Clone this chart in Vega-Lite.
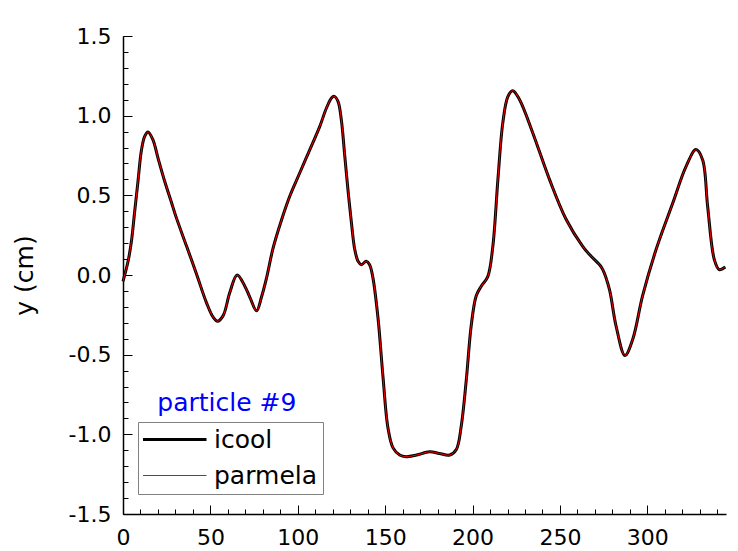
{
  "$schema": "https://vega.github.io/schema/vega-lite/v6.json",
  "width": 603,
  "height": 478,
  "autosize": {"type": "none"},
  "padding": {"left": 123, "top": 36, "right": 12, "bottom": 37},
  "background": "white",
  "config": {
    "view": {"stroke": null},
    "font": "DejaVu Sans",
    "axis": {"labelFont": "DejaVu Sans", "titleFont": "DejaVu Sans", "labelColor": "black", "titleColor": "black", "domainColor": "black", "tickColor": "black", "grid": false}
  },
  "datasets": {
    "traj": [
      {"x": 0, "icool": -0.04, "parmela": -0.04},
      {"x": 2.9, "icool": 0.086, "parmela": 0.086},
      {"x": 4.8, "icool": 0.21, "parmela": 0.21},
      {"x": 6.7, "icool": 0.4, "parmela": 0.4},
      {"x": 8.6, "icool": 0.59, "parmela": 0.59},
      {"x": 10.5, "icool": 0.78, "parmela": 0.78},
      {"x": 12.4, "icool": 0.87, "parmela": 0.87},
      {"x": 14.3, "icool": 0.898, "parmela": 0.898},
      {"x": 17.1, "icool": 0.85, "parmela": 0.85},
      {"x": 20, "icool": 0.735, "parmela": 0.735},
      {"x": 23.8, "icool": 0.59, "parmela": 0.59},
      {"x": 27.6, "icool": 0.46, "parmela": 0.46},
      {"x": 30.5, "icool": 0.36, "parmela": 0.36},
      {"x": 36.4, "icool": 0.18, "parmela": 0.18},
      {"x": 42.1, "icool": 0.005, "parmela": 0.005},
      {"x": 47.8, "icool": -0.175, "parmela": -0.175},
      {"x": 51.6, "icool": -0.265, "parmela": -0.265},
      {"x": 54.1, "icool": -0.29, "parmela": -0.29},
      {"x": 57.3, "icool": -0.255, "parmela": -0.255},
      {"x": 61.1, "icool": -0.11, "parmela": -0.11},
      {"x": 65.3, "icool": 0.0, "parmela": 0.0},
      {"x": 69.7, "icool": -0.07, "parmela": -0.07},
      {"x": 72.6, "icool": -0.14, "parmela": -0.14},
      {"x": 76.4, "icool": -0.225, "parmela": -0.225},
      {"x": 79.2, "icool": -0.14, "parmela": -0.14},
      {"x": 82.1, "icool": -0.02, "parmela": -0.02},
      {"x": 85.9, "icool": 0.17, "parmela": 0.17},
      {"x": 90.7, "icool": 0.345, "parmela": 0.345},
      {"x": 95.4, "icool": 0.494, "parmela": 0.494},
      {"x": 101.1, "icool": 0.64, "parmela": 0.64},
      {"x": 106.9, "icool": 0.787, "parmela": 0.787},
      {"x": 112.6, "icool": 0.933, "parmela": 0.933},
      {"x": 116.4, "icool": 1.048, "parmela": 1.048},
      {"x": 119.3, "icool": 1.111, "parmela": 1.111},
      {"x": 120.8, "icool": 1.121, "parmela": 1.121},
      {"x": 123, "icool": 1.09, "parmela": 1.09},
      {"x": 124.9, "icool": 0.975, "parmela": 0.975},
      {"x": 126.9, "icool": 0.745, "parmela": 0.745},
      {"x": 128.7, "icool": 0.536, "parmela": 0.536},
      {"x": 130.7, "icool": 0.327, "parmela": 0.327},
      {"x": 132.6, "icool": 0.16, "parmela": 0.16},
      {"x": 134.5, "icool": 0.086, "parmela": 0.086},
      {"x": 136.4, "icool": 0.065, "parmela": 0.065},
      {"x": 139.2, "icool": 0.086, "parmela": 0.086},
      {"x": 141.1, "icool": 0.065, "parmela": 0.065},
      {"x": 143, "icool": -0.018, "parmela": -0.018},
      {"x": 145.9, "icool": -0.27, "parmela": -0.27},
      {"x": 148.8, "icool": -0.645, "parmela": -0.645},
      {"x": 151.6, "icool": -0.96, "parmela": -0.96},
      {"x": 154.5, "icool": -1.085, "parmela": -1.085},
      {"x": 158.3, "icool": -1.13, "parmela": -1.13},
      {"x": 162, "icool": -1.14, "parmela": -1.14},
      {"x": 168, "icool": -1.13, "parmela": -1.13},
      {"x": 175.4, "icool": -1.11, "parmela": -1.11},
      {"x": 181, "icool": -1.12, "parmela": -1.12},
      {"x": 186.9, "icool": -1.13, "parmela": -1.13},
      {"x": 190.7, "icool": -1.095, "parmela": -1.095},
      {"x": 193.5, "icool": -0.95, "parmela": -0.95},
      {"x": 196.4, "icool": -0.66, "parmela": -0.66},
      {"x": 199.2, "icool": -0.32, "parmela": -0.32},
      {"x": 202.1, "icool": -0.13, "parmela": -0.13},
      {"x": 205, "icool": -0.07, "parmela": -0.07},
      {"x": 208.7, "icool": -0.01, "parmela": -0.01},
      {"x": 211.6, "icool": 0.18, "parmela": 0.18},
      {"x": 214.5, "icool": 0.6, "parmela": 0.6},
      {"x": 217.3, "icool": 0.955, "parmela": 0.955},
      {"x": 220.2, "icool": 1.12, "parmela": 1.12},
      {"x": 223, "icool": 1.157, "parmela": 1.157},
      {"x": 226.9, "icool": 1.1, "parmela": 1.1},
      {"x": 234.5, "icool": 0.89, "parmela": 0.89},
      {"x": 244, "icool": 0.6, "parmela": 0.6},
      {"x": 253.5, "icool": 0.35, "parmela": 0.35},
      {"x": 263, "icool": 0.18, "parmela": 0.18},
      {"x": 266.9, "icool": 0.128, "parmela": 0.128},
      {"x": 272.6, "icool": 0.065, "parmela": 0.065},
      {"x": 274.5, "icool": 0.034, "parmela": 0.034},
      {"x": 278.3, "icool": -0.09, "parmela": -0.09},
      {"x": 282.1, "icool": -0.32, "parmela": -0.32},
      {"x": 287.2, "icool": -0.505, "parmela": -0.505},
      {"x": 291.6, "icool": -0.405, "parmela": -0.405},
      {"x": 297.3, "icool": -0.13, "parmela": -0.13},
      {"x": 305, "icool": 0.16, "parmela": 0.16},
      {"x": 314.5, "icool": 0.45, "parmela": 0.45},
      {"x": 322.1, "icool": 0.68, "parmela": 0.68},
      {"x": 327.8, "icool": 0.787, "parmela": 0.787},
      {"x": 331.6, "icool": 0.724, "parmela": 0.724},
      {"x": 334.5, "icool": 0.43, "parmela": 0.43},
      {"x": 338.3, "icool": 0.097, "parmela": 0.097},
      {"x": 341.1, "icool": 0.034, "parmela": 0.034},
      {"x": 344.6, "icool": 0.05, "parmela": 0.05}
    ]
  },
  "layer": [
    {
      "data": {"name": "traj"},
      "transform": [{"fold": ["icool", "parmela"], "as": ["series", "y"]}],
      "mark": {"type": "line", "interpolate": "catmull-rom"},
      "encoding": {
        "x": {
          "field": "x", "type": "quantitative",
          "scale": {"domain": [0, 345], "nice": false, "zero": false},
          "axis": {"orient": "bottom", "values": [0, 50, 100, 150, 200, 250, 300], "format": "d", "title": null, "tickSize": -9, "tickWidth": 1, "domainWidth": 1.5, "labelPadding": 22, "labelFontSize": 22, "labelFlush": false, "labelOverlap": false}
        },
        "y": {
          "field": "y", "type": "quantitative",
          "scale": {"domain": [-1.5, 1.5], "nice": false, "zero": false},
          "axis": {"orient": "left", "values": [-1.5, -1, -0.5, 0, 0.5, 1, 1.5], "labelExpr": "replace(format(datum.value, '.1f'), '\u2212', '-')", "title": "y (cm)", "titleFontSize": 25, "titleFontWeight": "normal", "titlePadding": 31, "tickSize": -9, "tickWidth": 1, "domainWidth": 1.5, "labelPadding": 21, "labelFontSize": 22, "labelFlush": false, "labelOverlap": false}
        },
        "color": {
          "field": "series", "type": "nominal",
          "scale": {"domain": ["icool", "parmela"], "range": ["black", "red"]},
          "legend": {"title": null, "orient": "none", "legendX": 15, "legendY": 386, "direction": "vertical", "symbolType": "stroke", "symbolSize": 4225, "clipHeight": 25, "symbolOffset": -3, "labelFont": "DejaVu Sans", "labelFontSize": 25, "labelColor": "black", "labelOffset": 6, "strokeColor": "#808080", "fillColor": "white", "padding": 5, "rowPadding": 10, "encode": {"symbols": {"update": {"stroke": {"scale": "color", "field": "value"}, "strokeWidth": {"scale": "strokeWidth", "field": "value"}}}}}
        },
        "strokeWidth": {
          "field": "series", "type": "nominal",
          "scale": {"domain": ["icool", "parmela"], "range": [3, 1]},
          "legend": null
        }
      }
    },
    {
      "data": {"values": [{"label": "particle #9"}]},
      "mark": {"type": "text", "font": "DejaVu Sans", "fontSize": 25, "color": "#0000ff", "align": "center", "baseline": "alphabetic"},
      "encoding": {
        "text": {"field": "label"},
        "x": {"datum": 59.4, "type": "quantitative", "axis": {"orient": "bottom", "values": [0, 10, 20, 30, 40, 50, 60, 70, 80, 90, 100, 110, 120, 130, 140, 150, 160, 170, 180, 190, 200, 210, 220, 230, 240, 250, 260, 270, 280, 290, 300, 310, 320, 330, 340], "labels": false, "domain": false, "title": null, "tickSize": -5, "tickWidth": 1}},
        "y": {"datum": -0.851, "type": "quantitative", "axis": {"orient": "left", "values": [-1.5, -1.4, -1.3, -1.2, -1.1, -1, -0.9, -0.8, -0.7, -0.6, -0.5, -0.4, -0.3, -0.2, -0.1, 0, 0.1, 0.2, 0.3, 0.4, 0.5, 0.6, 0.7, 0.8, 0.9, 1, 1.1, 1.2, 1.3, 1.4, 1.5], "labels": false, "domain": false, "title": null, "tickSize": -5, "tickWidth": 1}}
      }
    }
  ],
  "resolve": {"axis": {"x": "independent", "y": "independent"}}
}
